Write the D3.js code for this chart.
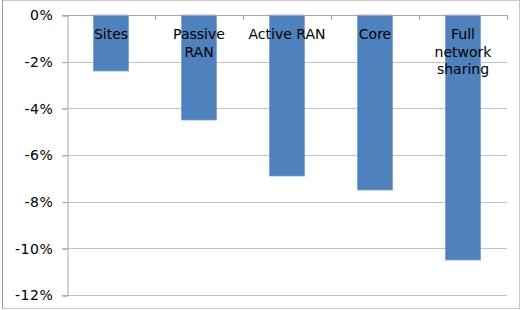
<!DOCTYPE html>
<html>
<head>
<meta charset="utf-8">
<script src="https://cdn.jsdelivr.net/npm/d3@7"></script>
<style>
  body { margin: 0; background: #fff; }
  svg { display: block; font-family: "DejaVu Sans", Verdana, sans-serif; }
</style>
</head>
<body>
<svg width="521" height="310"></svg>
<script>
// chart data
const categories = [["Sites"], ["Passive", "RAN"], ["Active RAN"], ["Core"], ["Full", "network", "sharing"]]
const values = [-2.4, -4.5, -6.9, -7.5, -10.5]
const yTicks = [0, -2, -4, -6, -8, -10, -12]

document.addEventListener('DOMContentLoaded', () => {
    drawChart()
})

function drawChart() {
    const svg = d3.select("svg")

    // outer frame
    svg.append("rect")
        .attr("x", 2.5).attr("y", 0.5)
        .attr("width", 517).attr("height", 308)
        .attr("fill", "none").attr("stroke", "#c8c8c8")
    svg.append("line")
        .attr("x1", 2.5).attr("x2", 2.5).attr("y1", 0).attr("y2", 309)
        .attr("stroke", "#9a9a9a")

    const x = d3.scaleBand()
        .domain(d3.range(categories.length))
        .range([67, 507])
        .paddingInner(0.6)
        .paddingOuter(0.3)

    const y = d3.scaleLinear()
        .domain([-12, 0])
        .range([295, 15])

    // gridlines
    svg.append("g")
        .selectAll("line")
        .data(yTicks.filter(d => d != 0))
        .enter()
        .append("line")
        .attr("x1", 62).attr("x2", 507)
        .attr("y1", d => Math.round(y(d)) + 0.5)
        .attr("y2", d => Math.round(y(d)) + 0.5)
        .attr("stroke", "#c4c4c4")

    // y axis
    const yAxis = d3.axisLeft(y)
        .tickValues(yTicks)
        .tickSize(5)
        .tickPadding(9)
        .tickFormat(d => d + "%")
    const ga = svg.append("g")
        .attr("transform", "translate(67.5,0.5)")
        .call(yAxis)
    ga.select(".domain").attr("stroke", "#a6a6a6")
    ga.selectAll(".tick line").attr("stroke", "#a6a6a6")
    ga.selectAll("text")
        .attr("fill", "#000")
        .style("font-size", "14px")
        .style("letter-spacing", "0.6px")
        .style("font-family", "DejaVu Sans, Verdana, sans-serif")

    // bars
    svg.append("g")
        .selectAll("rect")
        .data(values)
        .enter()
        .append("rect")
        .attr("x", (d, i) => x(i))
        .attr("y", y(0))
        .attr("width", x.bandwidth())
        .attr("height", d => y(d) - y(0))
        .attr("fill", "#4f81bd")
        .attr("stroke", "#7ea3d3")
        .attr("stroke-width", 0.8)

    // category axis along 0%
    const xb = d3.scaleLinear().domain([0, categories.length]).range([67, 507])
    svg.append("line")
        .attr("x1", 62).attr("x2", 507)
        .attr("y1", y(0) + 0.5).attr("y2", y(0) + 0.5)
        .attr("stroke", "#a6a6a6")
    svg.append("g")
        .selectAll("line")
        .data(d3.range(1, categories.length + 1))
        .enter()
        .append("line")
        .attr("x1", d => xb(d) + 0.5).attr("x2", d => xb(d) + 0.5)
        .attr("y1", y(0)).attr("y2", y(0) + 5)
        .attr("stroke", "#a6a6a6")

    // category labels
    const labels = svg.append("g")
        .selectAll("text")
        .data(categories)
        .enter()
        .append("text")
        .attr("x", (d, i) => x(i) + x.bandwidth() / 2)
        .attr("y", 39)
        .attr("text-anchor", "middle")
        .attr("fill", "#000")
        .style("font-size", "14px")
    labels.selectAll("tspan")
        .data(d => d)
        .enter()
        .append("tspan")
        .attr("x", function() { return this.parentNode.getAttribute("x") })
        .attr("dy", (d, i) => i == 0 ? 0 : 17.5)
        .text(d => d)
}
</script>
</body>
</html>
